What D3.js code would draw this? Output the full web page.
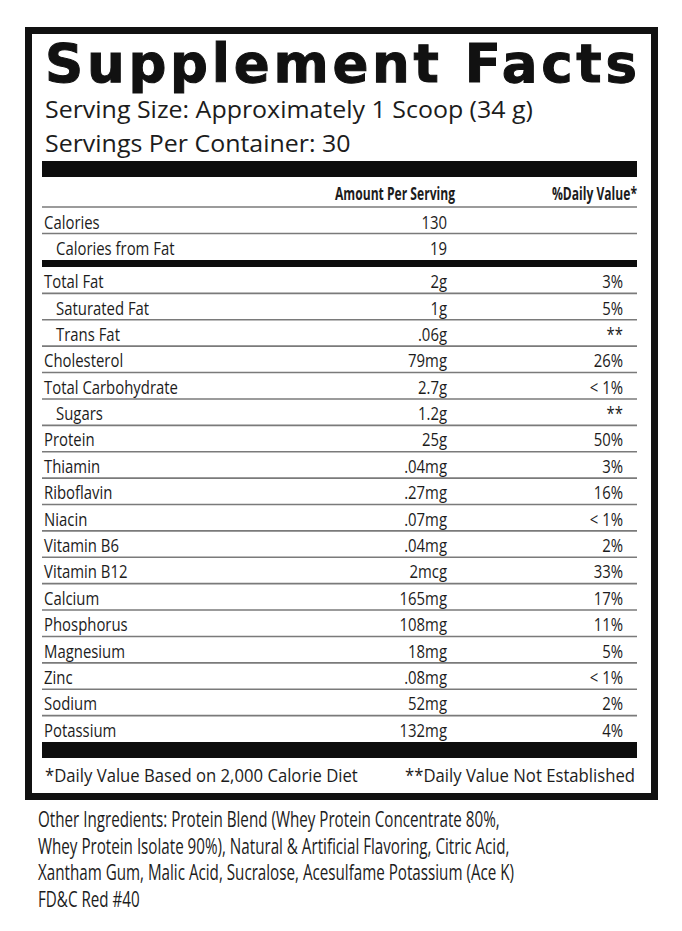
<!DOCTYPE html>
<html>
<head>
<meta charset="utf-8">
<script src="https://cdn.jsdelivr.net/npm/d3@7"></script>
<style>
  body { margin: 0; background: #fff; }
</style>
</head>
<body>
<svg id="facts"></svg>
<script>
// label content
const title = "Supplement Facts";
const servingLines = ["Serving Size: Approximately 1 Scoop (34 g)", "Servings Per Container: 30"];
const columnHeads = ["Amount Per Serving", "%Daily Value*"];
const calorieRows = ["Calories", "Calories from Fat"];
const calorieAmounts = ["130", "19"];
const nutrients = ["Total Fat", "Saturated Fat", "Trans Fat", "Cholesterol", "Total Carbohydrate", "Sugars",
  "Protein", "Thiamin", "Riboflavin", "Niacin", "Vitamin B6", "Vitamin B12", "Calcium", "Phosphorus",
  "Magnesium", "Zinc", "Sodium", "Potassium"];
const amounts = ["2g", "1g", ".06g", "79mg", "2.7g", "1.2g", "25g", ".04mg", ".27mg", ".07mg", ".04mg",
  "2mcg", "165mg", "108mg", "18mg", ".08mg", "52mg", "132mg"];
const dailyValues = ["3%", "5%", "**", "26%", "< 1%", "**", "50%", "3%", "16%", "< 1%", "2%", "33%",
  "17%", "11%", "5%", "< 1%", "2%", "4%"];
const subItems = ["Calories from Fat", "Saturated Fat", "Trans Fat", "Sugars"];
const footnotes = ["*Daily Value Based on 2,000 Calorie Diet", "**Daily Value Not Established"];
const ingredients = [
  "Other Ingredients: Protein Blend (Whey Protein Concentrate 80%,",
  "Whey Protein Isolate 90%), Natural & Artificial Flavoring, Citric Acid,",
  "Xantham Gum, Malic Acid, Sucralose, Acesulfame Potassium (Ace K)",
  "FD&C Red #40"
];

const W = 682, H = 931;
const left = 42, right = 637;
const ink = "#1c1c1c";

const svg = d3.select("#facts").attr("width", W).attr("height", H)
  .style("font-family", "'Open Sans', sans-serif");

function measure(str, font) {
  const t = svg.append("text").style("font", font).text(str);
  const w = t.node().getComputedTextLength();
  t.remove();
  return w;
}

// condensed look: squeeze normal fonts horizontally
const bodyFont = "18px 'Open Sans'";
const bodyK = 134 / measure("Total Carbohydrate", bodyFont);
const headFont = "bold 17px 'Open Sans'";
const headK = 120 / measure(columnHeads[0], headFont);
const servFont = "24px 'Open Sans'";
const servK = 488 / measure(servingLines[0], servFont);
const footFont = "18.5px 'Open Sans'";
const footK = 313 / measure(footnotes[0], footFont);
const ingFont = "21px 'Open Sans'";
const ingK = 462 / measure(ingredients[0], ingFont);

function put(g, str, x, y, font, k, anchor) {
  return g.append("text")
    .attr("transform", `translate(${x},${y}) scale(${k},1)`)
    .attr("text-anchor", anchor || "start")
    .attr("fill", ink)
    .style("font", font)
    .text(str);
}

// outer border
svg.append("rect")
  .attr("x", 28.5).attr("y", 30.5).attr("width", 626).attr("height", 766)
  .attr("fill", "none").attr("stroke", "#111").attr("stroke-width", 7);

// title, spread out to fill the box width
const titleFont = "bold 53px 'DejaVu Sans'";
const titleW = measure(title, titleFont);
svg.append("text")
  .attr("x", 45).attr("y", 82)
  .attr("textLength", 592)
  .attr("lengthAdjust", titleW < 592 ? "spacing" : "spacingAndGlyphs")
  .attr("fill", "#111").attr("stroke", "#111").attr("stroke-width", 1)
  .style("font", titleFont)
  .text(title);

// serving lines
const servY = d3.scalePoint().domain(servingLines).range([118, 152]);
servingLines.forEach(s => put(svg, s, 45, servY(s), servFont, servK));

// thick bars
const bar = (y, h) => svg.append("rect").attr("x", left).attr("y", y)
  .attr("width", right - left).attr("height", h).attr("fill", "#0d0d0d");
bar(161, 16);

// column anchors
const col = d3.scaleOrdinal().domain(["label", "amount", "dv"]).range([44, 447, 623]);

put(svg, columnHeads[0], 455, 200, headFont, headK, "end");
put(svg, columnHeads[1], right, 200, headFont, headK, "end");

const rule = y => svg.append("line").attr("x1", left).attr("x2", right)
  .attr("y1", y).attr("y2", y).attr("stroke", "#7a7a7a").attr("stroke-width", 1.6);
rule(207);

// calories block
const yCal = d3.scaleBand().domain(calorieRows).range([207, 260]);
calorieRows.forEach((r, i) => {
  const base = yCal(r) + yCal.bandwidth() * 0.82;
  const ind = subItems.includes(r) ? 12 : 0;
  put(svg, r, col("label") + ind, base, bodyFont, bodyK);
  put(svg, calorieAmounts[i], col("amount"), base, bodyFont, bodyK, "end");
  if (i < calorieRows.length - 1) rule(yCal(r) + yCal.bandwidth());
});
bar(260, 7);

// nutrient rows
const yRow = d3.scaleBand().domain(nutrients).range([267, 742]);
nutrients.forEach((r, i) => {
  const base = yRow(r) + yRow.bandwidth() * 0.8;
  const ind = subItems.includes(r) ? 12 : 0;
  put(svg, r, col("label") + ind, base, bodyFont, bodyK);
  put(svg, amounts[i], col("amount"), base, bodyFont, bodyK, "end");
  put(svg, dailyValues[i], col("dv"), base, bodyFont, bodyK, "end");
  if (i < nutrients.length - 1) rule(yRow(r) + yRow.bandwidth());
});
bar(742, 16);

// footnotes
put(svg, footnotes[0], 45, 782, footFont, footK);
put(svg, footnotes[1], 635, 782, footFont, footK, "end");

// other ingredients
const ingY = d3.scalePoint().domain(d3.range(ingredients.length)).range([827, 907]);
ingredients.forEach((s, i) => put(svg, s, 38, ingY(i), ingFont, ingK));
</script>
</body>
</html>
